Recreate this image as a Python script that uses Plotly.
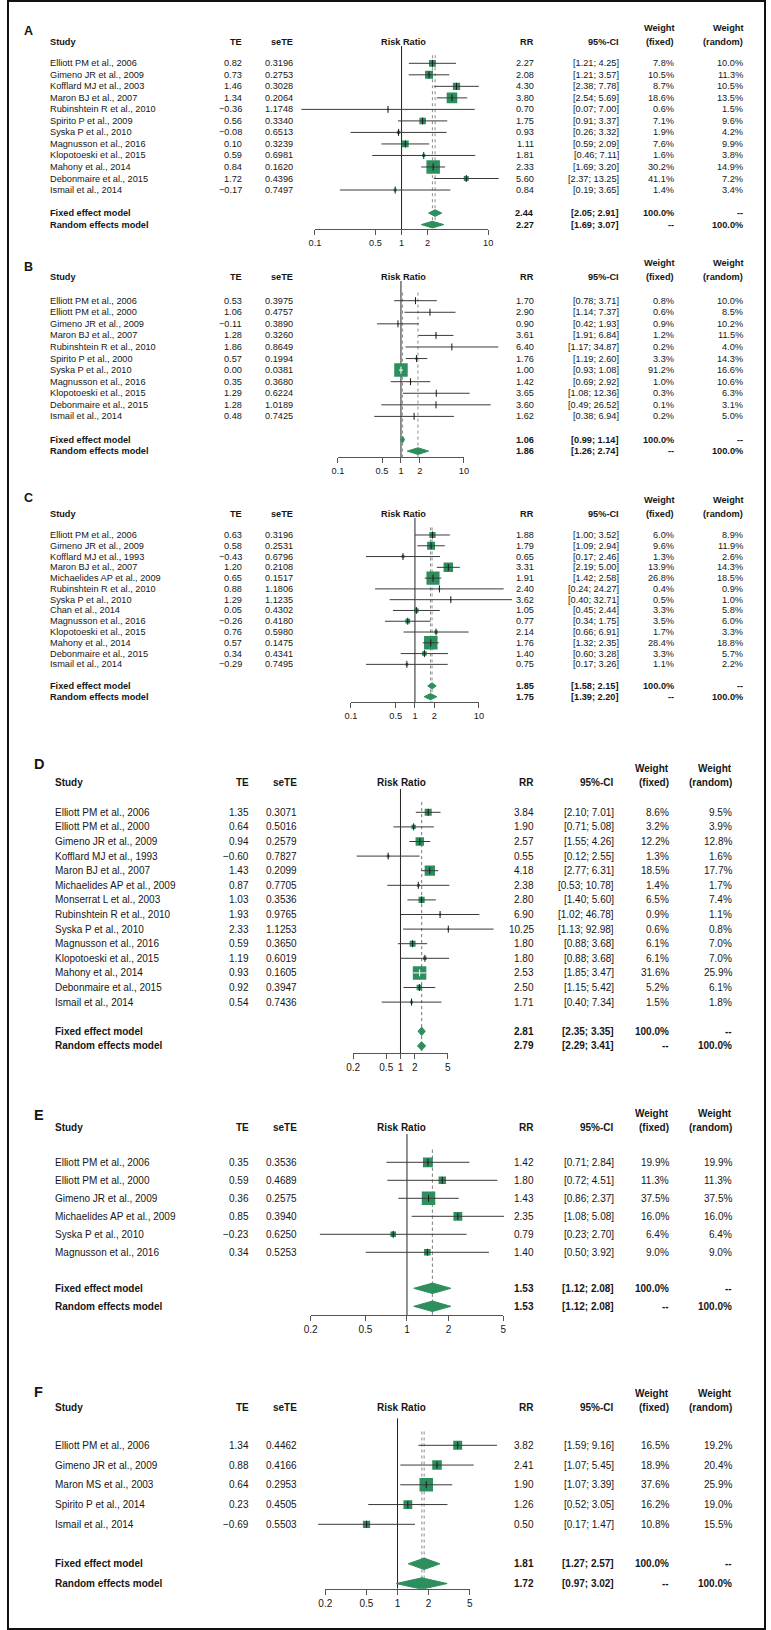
import math
import plotly.graph_objects as go

W, H = 771, 1630

# ---------------- data ----------------
A_study = ["Elliott PM et al., 2006", "Gimeno JR et al., 2009", "Kofflard MJ et al., 2003",
           "Maron BJ et al., 2007", "Rubinshtein R et al., 2010", "Spirito P et al., 2009",
           "Syska P et al., 2010", "Magnusson et al., 2016", "Klopotoeski et al., 2015",
           "Mahony et al., 2014", "Debonmaire et al., 2015", "Ismail et al., 2014"]
A_te = [0.82, 0.73, 1.46, 1.34, -0.36, 0.56, -0.08, 0.10, 0.59, 0.84, 1.72, -0.17]
A_se = [0.3196, 0.2753, 0.3028, 0.2064, 1.1748, 0.3340, 0.6513, 0.3239, 0.6981, 0.1620, 0.4396, 0.7497]
A_rr = [2.27, 2.08, 4.30, 3.80, 0.70, 1.75, 0.93, 1.11, 1.81, 2.33, 5.60, 0.84]
A_lo = [1.21, 1.21, 2.38, 2.54, 0.07, 0.91, 0.26, 0.59, 0.46, 1.69, 2.37, 0.19]
A_hi = [4.25, 3.57, 7.78, 5.69, 7.00, 3.37, 3.32, 2.09, 7.11, 3.20, 13.25, 3.65]
A_wf = [7.8, 10.5, 8.7, 18.6, 0.6, 7.1, 1.9, 7.6, 1.6, 30.2, 41.1, 1.4]
A_wr = [10.0, 11.3, 10.5, 13.5, 1.5, 9.6, 4.2, 9.9, 3.8, 14.9, 7.2, 3.4]
A_fixed = [2.44, 2.05, 2.91]
A_random = [2.27, 1.69, 3.07]
A_het = "Heterogeneity: I\u00b2 = 55%, \u03c4\u00b2 = 0.1291, p = 0.01"
A_ticks = [0.1, 0.5, 1, 2, 10]
A_ticklabels = ["0.1", "0.5", "1", "2", "10"]

B_study = ["Elliott PM et al., 2006", "Elliott PM et al., 2000", "Gimeno JR et al., 2009",
           "Maron BJ et al., 2007", "Rubinshtein R et al., 2010", "Spirito P et al., 2000",
           "Syska P et al., 2010", "Magnusson et al., 2016", "Klopotoeski et al., 2015",
           "Debonmaire et al., 2015", "Ismail et al., 2014"]
B_te = [0.53, 1.06, -0.11, 1.28, 1.86, 0.57, 0.00, 0.35, 1.29, 1.28, 0.48]
B_se = [0.3975, 0.4757, 0.3890, 0.3260, 0.8649, 0.1994, 0.0381, 0.3680, 0.6224, 1.0189, 0.7425]
B_rr = [1.70, 2.90, 0.90, 3.61, 6.40, 1.76, 1.00, 1.42, 3.65, 3.60, 1.62]
B_lo = [0.78, 1.14, 0.42, 1.91, 1.17, 1.19, 0.93, 0.69, 1.08, 0.49, 0.38]
B_hi = [3.71, 7.37, 1.93, 6.84, 34.87, 2.60, 1.08, 2.92, 12.36, 26.52, 6.94]
B_wf = [0.8, 0.6, 0.9, 1.2, 0.2, 3.3, 91.2, 1.0, 0.3, 0.1, 0.2]
B_wr = [10.0, 8.5, 10.2, 11.5, 4.0, 14.3, 16.6, 10.6, 6.3, 3.1, 5.0]
B_fixed = [1.06, 0.99, 1.14]
B_random = [1.86, 1.26, 2.74]
B_het = "Heterogeneity: I\u00b2 = 75%, \u03c4\u00b2 = 0.236, p < 0.01"
B_ticks = [0.1, 0.5, 1, 2, 10]
B_ticklabels = ["0.1", "0.5", "1", "2", "10"]

C_study = ["Elliott PM et al., 2006", "Gimeno JR et al., 2009", "Kofflard MJ et al., 1993",
           "Maron BJ et al., 2007", "Michaelides AP et al., 2009", "Rubinshtein R et al., 2010",
           "Syska P et al., 2010", "Chan et al., 2014", "Magnusson et al., 2016",
           "Klopotoeski et al., 2015", "Mahony et al., 2014", "Debonmaire et al., 2015",
           "Ismail et al., 2014"]
C_te = [0.63, 0.58, -0.43, 1.20, 0.65, 0.88, 1.29, 0.05, -0.26, 0.76, 0.57, 0.34, -0.29]
C_se = [0.3196, 0.2531, 0.6796, 0.2108, 0.1517, 1.1806, 1.1235, 0.4302, 0.4180, 0.5980, 0.1475, 0.4341, 0.7495]
C_rr = [1.88, 1.79, 0.65, 3.31, 1.91, 2.40, 3.62, 1.05, 0.77, 2.14, 1.76, 1.40, 0.75]
C_lo = [1.00, 1.09, 0.17, 2.19, 1.42, 0.24, 0.40, 0.45, 0.34, 0.66, 1.32, 0.60, 0.17]
C_hi = [3.52, 2.94, 2.46, 5.00, 2.58, 24.27, 32.71, 2.44, 1.75, 6.91, 2.35, 3.28, 3.26]
C_wf = [6.0, 9.6, 1.3, 13.9, 26.8, 0.4, 0.5, 3.3, 3.5, 1.7, 28.4, 3.3, 1.1]
C_wr = [8.9, 11.9, 2.6, 14.3, 18.5, 0.9, 1.0, 5.8, 6.0, 3.3, 18.8, 5.7, 2.2]
C_fixed = [1.85, 1.58, 2.15]
C_random = [1.75, 1.39, 2.20]
C_het = "Heterogeneity: I\u00b2 = 36%, \u03c4\u00b2 = 0.0504, p = 0.10"
C_ticks = [0.1, 0.5, 1, 2, 10]
C_ticklabels = ["0.1", "0.5", "1", "2", "10"]

D_study = ["Elliott PM et al., 2006", "Elliott PM et al., 2000", "Gimeno JR et al., 2009",
           "Kofflard MJ et al., 1993", "Maron BJ et al., 2007", "Michaelides AP et al., 2009",
           "Monserrat L et al., 2003", "Rubinshtein R et al., 2010", "Syska P et al., 2010",
           "Magnusson et al., 2016", "Klopotoeski et al., 2015", "Mahony et al., 2014",
           "Debonmaire et al., 2015", "Ismail et al., 2014"]
D_te = [1.35, 0.64, 0.94, -0.60, 1.43, 0.87, 1.03, 1.93, 2.33, 0.59, 1.19, 0.93, 0.92, 0.54]
D_se = [0.3071, 0.5016, 0.2579, 0.7827, 0.2099, 0.7705, 0.3536, 0.9765, 1.1253, 0.3650, 0.6019, 0.1605, 0.3947, 0.7436]
D_rr = [3.84, 1.90, 2.57, 0.55, 4.18, 2.38, 2.80, 6.90, 10.25, 1.80, 1.80, 2.53, 2.50, 1.71]
D_lo = [2.10, 0.71, 1.55, 0.12, 2.77, 0.53, 1.40, 1.02, 1.13, 0.88, 0.88, 1.85, 1.15, 0.40]
D_hi = [7.01, 5.08, 4.26, 2.55, 6.31, 10.78, 5.60, 46.78, 92.98, 3.68, 3.68, 3.47, 5.42, 7.34]
D_wf = [8.6, 3.2, 12.2, 1.3, 18.5, 1.4, 6.5, 0.9, 0.6, 6.1, 6.1, 31.6, 5.2, 1.5]
D_wr = [9.5, 3.9, 12.8, 1.6, 17.7, 1.7, 7.4, 1.1, 0.8, 7.0, 7.0, 25.9, 6.1, 1.8]
D_fixed = [2.81, 2.35, 3.35]
D_random = [2.79, 2.29, 3.41]
D_het = "Heterogeneity: I\u00b2 = 10%, \u03c4\u00b2 = 0.0138, p = 0.35"
D_ticks = [0.1, 0.5, 1, 2, 10]
D_ticklabels = ["0.2", "0.5", "1", "2", "5"]

E_study = ["Elliott PM et al., 2006", "Elliott PM et al., 2000", "Gimeno JR et al., 2009",
           "Michaelides AP et al., 2009", "Syska P et al., 2010", "Magnusson et al., 2016"]
E_te = [0.35, 0.59, 0.36, 0.85, -0.23, 0.34]
E_se = [0.3536, 0.4689, 0.2575, 0.3940, 0.6250, 0.5253]
E_rr = [1.42, 1.80, 1.43, 2.35, 0.79, 1.40]
E_lo = [0.71, 0.72, 0.86, 1.08, 0.23, 0.50]
E_hi = [2.84, 4.51, 2.37, 5.08, 2.70, 3.92]
E_wf = [19.9, 11.3, 37.5, 16.0, 6.4, 9.0]
E_wr = [19.9, 11.3, 37.5, 16.0, 6.4, 9.0]
E_fixed = [1.53, 1.12, 2.08]
E_random = [1.53, 1.12, 2.08]
E_het = "Heterogeneity: I\u00b2 = 0%, \u03c4\u00b2 = 0, p = 0.77"
E_ticks = [0.2, 0.5, 1, 2, 5]
E_ticklabels = ["0.2", "0.5", "1", "2", "5"]

F_study = ["Elliott PM et al., 2006", "Gimeno JR et al., 2009", "Maron MS et al., 2003",
           "Spirito P et al., 2014", "Ismail et al., 2014"]
F_te = [1.34, 0.88, 0.64, 0.23, -0.69]
F_se = [0.4462, 0.4166, 0.2953, 0.4505, 0.5503]
F_rr = [3.82, 2.41, 1.90, 1.26, 0.50]
F_lo = [1.59, 1.07, 1.07, 0.52, 0.17]
F_hi = [9.16, 5.45, 3.39, 3.05, 1.47]
F_wf = [16.5, 18.9, 37.6, 16.2, 10.8]
F_wr = [19.2, 20.4, 25.9, 19.0, 15.5]
F_fixed = [1.81, 1.27, 2.57]
F_random = [1.72, 0.97, 3.02]
F_het = "Heterogeneity: I\u00b2 = 58%, \u03c4\u00b2 = 0.2343, p = 0.05"
F_ticks = [0.2, 0.5, 1, 2, 5]
F_ticklabels = ["0.2", "0.5", "1", "2", "5"]

PANEL_DATA = [
    ("A", A_study, A_te, A_se, A_rr, A_lo, A_hi, A_wf, A_wr, A_fixed, A_random, A_het, A_ticks, A_ticklabels),
    ("B", B_study, B_te, B_se, B_rr, B_lo, B_hi, B_wf, B_wr, B_fixed, B_random, B_het, B_ticks, B_ticklabels),
    ("C", C_study, C_te, C_se, C_rr, C_lo, C_hi, C_wf, C_wr, C_fixed, C_random, C_het, C_ticks, C_ticklabels),
    ("D", D_study, D_te, D_se, D_rr, D_lo, D_hi, D_wf, D_wr, D_fixed, D_random, D_het, D_ticks, D_ticklabels),
    ("E", E_study, E_te, E_se, E_rr, E_lo, E_hi, E_wf, E_wr, E_fixed, E_random, E_het, E_ticks, E_ticklabels),
    ("F", F_study, F_te, F_se, F_rr, F_lo, F_hi, F_wf, F_wr, F_fixed, F_random, F_het, F_ticks, F_ticklabels),
]

# ---------------- layout / style (pixels) ----------------
COLS_SMALL = dict(study=44, te=239, se=291, rrh=402.5, rr=535.7, ci=621.7, wf=678, wr=748, letter=22)
COLS_LARGE = dict(study=49, te=245.7, se=295, rrh=400.7, rr=535.7, ci=616.7, wf=672, wr=736.7, letter=32)
GEOM = [
    dict(y0=63.3, s=11.52, hdr=42, letter=31, axis=229, reftop=46, px1=400.8, ppd=88, fs=9.2, lfs=12.5, cols=COLS_SMALL),
    dict(y0=300.7, s=11.57, hdr=277, letter=267, axis=457, reftop=281, px1=400.2, ppd=64, fs=9.2, lfs=12.5, cols=COLS_SMALL),
    dict(y0=535.0, s=10.78, hdr=514, letter=498.3, axis=702.3, reftop=518, px1=414.4, ppd=65, fs=9.2, lfs=12.5, cols=COLS_SMALL),
    dict(y0=812.3, s=14.6, hdr=782.3, letter=764, axis=1053.3, reftop=789, px1=399.7, ppd=48, fs=10.0, lfs=14.5, cols=COLS_LARGE),
    dict(y0=1162.3, s=18.0, hdr=1127.7, letter=1115, axis=1315, reftop=1134, px1=406.3, ppd=140, fs=10.0, lfs=14.5, cols=COLS_LARGE),
    dict(y0=1445.3, s=19.75, hdr=1407.3, letter=1392.3, axis=1588.7, reftop=1418.3, px1=396.7, ppd=105, fs=10.0, lfs=14.5, cols=COLS_LARGE),
]
XD0, XD1 = 288, 522          # pixel span of the data x-axes
FONT = "Liberation Sans, Arial, Helvetica, sans-serif"
TXT = "#161616"
GREEN = "#2e8f5e"
LINE = "#3a3a3a"
BOX_MAX = 13.5
DIAM_H = 0.29


def num(v, d=2):
    return f"{v:.{d}f}".replace("-", "\u2212")


def axname(prefix, n):
    return prefix if n == 1 else f"{prefix}{n}"


fig = go.Figure()
annotations = []
layout_axes = {}

for i, (key, study, te, se, rr, lo, hi, wf, wr, fixed, random, het, ticks, ticklabels) in enumerate(PANEL_DATA):
    g = GEOM[i]
    c = g["cols"]
    y0, s = g["y0"], g["s"]
    n = len(study)
    xd_n, xt_n, y_n = 2 * i + 1, 2 * i + 2, i + 1
    xd, xt, yy = axname("x", xd_n), axname("x", xt_n), axname("y", y_n)

    def row(px):
        return (px - y0) / s

    r_bot = row(g["axis"])
    top_px = g["letter"] - 12
    r_top = row(top_px)
    px1, ppd = g["px1"], g["ppd"]

    layout_axes[axname("yaxis", y_n)] = dict(
        domain=[1 - g["axis"] / H, 1 - top_px / H], range=[r_bot, r_top], anchor=xd,
        showgrid=False, zeroline=False, showticklabels=False, showline=False, ticks="")
    layout_axes[axname("xaxis", xd_n)] = dict(
        type="log", domain=[XD0 / W, XD1 / W],
        range=[(XD0 - px1) / ppd, (XD1 - px1) / ppd], anchor=yy,
        showgrid=False, zeroline=False, showticklabels=False, showline=False, ticks="")
    tmin, tmax = ticks[0], ticks[-1]
    layout_axes[axname("xaxis", xt_n)] = dict(
        type="log",
        domain=[(px1 + ppd * math.log10(tmin)) / W, (px1 + ppd * math.log10(tmax)) / W],
        range=[math.log10(tmin), math.log10(tmax)], anchor=yy,
        showgrid=False, zeroline=False, showline=True, linecolor="#555", linewidth=1,
        ticks="outside", ticklen=5, tickwidth=1, tickcolor="#555",
        tickvals=ticks, ticktext=ticklabels,
        tickfont=dict(family=FONT, size=g["fs"], color=TXT))

    # invisible anchor trace for the tick axis
    fig.add_trace(go.Scatter(x=[1], y=[r_bot], xaxis=xt, yaxis=yy, mode="markers",
                             marker=dict(opacity=0), hoverinfo="skip", showlegend=False))

    # reference line at 1
    fig.add_trace(go.Scatter(x=[1, 1], y=[row(g["reftop"]), r_bot], xaxis=xd, yaxis=yy, mode="lines",
                             line=dict(color="#222", width=1), hoverinfo="skip", showlegend=False))
    # dotted summary lines
    for v in (fixed[0], random[0]):
        fig.add_trace(go.Scatter(x=[v, v], y=[-0.7, r_bot], xaxis=xd, yaxis=yy, mode="lines",
                                 line=dict(color="#8c8c8c", width=1, dash="dot"),
                                 hoverinfo="skip", showlegend=False))

    # study estimates from TE / seTE
    est = [math.exp(t) for t in te]
    clo = [math.exp(t - 1.96 * e) for t, e in zip(te, se)]
    chi = [math.exp(t + 1.96 * e) for t, e in zip(te, se)]
    inv = [1 / e ** 2 for e in se]
    wmax = max(inv)
    sizes = [BOX_MAX * math.sqrt(w / wmax) for w in inv]
    rows = list(range(n))

    fig.add_trace(go.Scatter(x=est, y=rows, xaxis=xd, yaxis=yy, mode="markers",
                             marker=dict(symbol="square", size=sizes, color=GREEN, opacity=1,
                                         line=dict(width=0)),
                             hoverinfo="skip", showlegend=False))

    dark_x, dark_y, white_x, white_y, dk_tx, dk_ty, wt_tx, wt_ty = [], [], [], [], [], [], [], []
    for k in range(n):
        width_px = ppd * (math.log10(chi[k]) - math.log10(clo[k]))
        if width_px < sizes[k]:
            white_x += [clo[k], chi[k], None]; white_y += [k, k, None]
            wt_tx.append(est[k]); wt_ty.append(k)
        else:
            dark_x += [clo[k], chi[k], None]; dark_y += [k, k, None]
            dk_tx.append(est[k]); dk_ty.append(k)
    for xs, ys, col in ((dark_x, dark_y, LINE), (white_x, white_y, "white")):
        if xs:
            fig.add_trace(go.Scatter(x=xs, y=ys, xaxis=xd, yaxis=yy, mode="lines",
                                     line=dict(color=col, width=1), hoverinfo="skip", showlegend=False))
    for xs, ys, col in ((dk_tx, dk_ty, "#1a1a1a"), (wt_tx, wt_ty, "white")):
        if xs:
            fig.add_trace(go.Scatter(x=xs, y=ys, xaxis=xd, yaxis=yy, mode="markers",
                                     marker=dict(symbol="line-ns", size=5, opacity=1,
                                                 line=dict(color=col, width=1)),
                                     hoverinfo="skip", showlegend=False))

    # diamonds
    for r, (m, l, h) in ((n + 1, fixed), (n + 2, random)):
        fig.add_trace(go.Scatter(x=[l, m, h, m, l], y=[r, r - DIAM_H, r, r + DIAM_H, r],
                                 xaxis=xd, yaxis=yy, mode="lines", fill="toself",
                                 fillcolor=GREEN, line=dict(color=GREEN, width=1),
                                 hoverinfo="skip", showlegend=False))

    # ---- text ----
    fs = g["fs"]

    def ann(text, xpx, yrow, anchor="right", bold=False, size=None):
        annotations.append(dict(
            text=f"<b>{text}</b>" if bold else text, x=xpx / W, xref="paper", y=yrow, yref=yy,
            xanchor=anchor, yanchor="middle", showarrow=False, borderpad=0, borderwidth=0,
            font=dict(family=FONT, size=size or fs, color=TXT)))

    rh = row(g["hdr"])
    rw = row(g["hdr"] - 14)
    ann(key, c["letter"], row(g["letter"]), "center", True, g["lfs"])
    ann("Study", c["study"], rh, "left", True)
    ann("TE", c["te"], rh, bold=True)
    ann("seTE", c["se"], rh, bold=True)
    ann("Risk Ratio", c["rrh"], rh, "center", True)
    ann("RR", c["rr"], rh, bold=True)
    ann("95%-CI", c["ci"], rh, bold=True)
    ann("Weight", c["wf"], rw, bold=True)
    ann("(fixed)", c["wf"], rh, bold=True)
    ann("Weight", c["wr"], rw, bold=True)
    ann("(random)", c["wr"], rh, bold=True)

    for k in range(n):
        ann(study[k], c["study"], k, "left")
        ann(num(te[k]), c["te"], k)
        ann(num(se[k], 4), c["se"], k)
        ann(num(rr[k]), c["rr"], k)
        ann(f"[{num(lo[k])}; {num(hi[k])}]", c["ci"], k)
        ann(f"{wf[k]:.1f}%", c["wf"], k)
        ann(f"{wr[k]:.1f}%", c["wr"], k)

    for r, label, vals, wfx, wrx in ((n + 1, "Fixed effect model", fixed, "100.0%", "--"),
                                     (n + 2, "Random effects model", random, "--", "100.0%")):
        ann(label, c["study"], r, "left", True)
        ann(num(vals[0]), c["rr"], r, bold=True)
        ann(f"[{num(vals[1])}; {num(vals[2])}]", c["ci"], r, bold=True)
        ann(wfx, c["wf"], r, bold=True)
        ann(wrx, c["wr"], r, bold=True)
    ann(het, c["study"], n + 3, "left")

fig.update_layout(
    width=W, height=H, autosize=False,
    margin=dict(l=0, r=0, t=0, b=0, pad=0),
    paper_bgcolor="white", plot_bgcolor="rgba(0,0,0,0)",
    showlegend=False, hovermode=False,
    annotations=annotations,
    shapes=[dict(type="rect", xref="paper", yref="paper", x0=1 / W, x1=1 - 1 / W, y0=1 / H, y1=1 - 1 / H,
                 line=dict(color="#111", width=2), fillcolor="rgba(0,0,0,0)")],
    **layout_axes,
)

fig.write_html("out.html", include_plotlyjs=True, full_html=True,
               config={"displayModeBar": False, "staticPlot": True},
               post_script="document.body.style.margin='0';document.body.style.overflow='hidden';")
